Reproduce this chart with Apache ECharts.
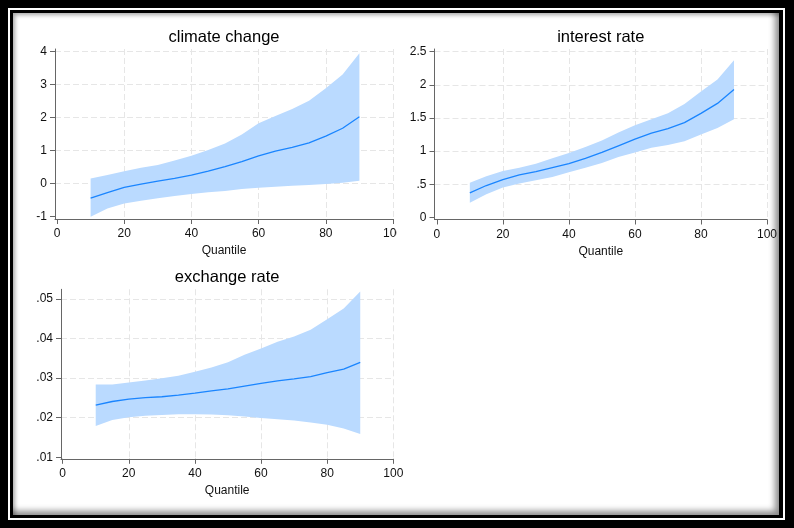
<!DOCTYPE html>
<html>
<head>
<meta charset="utf-8">
<script src="https://cdn.jsdelivr.net/npm/echarts@6/dist/echarts.min.js"></script>
<style>
html,body{margin:0;padding:0;background:#000;}
#wrap{position:relative;width:794px;height:528px;background:#000;overflow:hidden;}
.f1{position:absolute;left:8px;top:8px;width:777px;height:512px;background:#fff;}
.f2{position:absolute;left:10px;top:10px;width:773px;height:508px;background:#000;}
.f3{position:absolute;left:13px;top:13px;width:766px;height:502px;background:#fff;
    box-shadow:inset -6px -6px 6px -2px rgba(0,0,0,.45), inset 4px 4px 4px -2px rgba(0,0,0,.35);}
#main{position:absolute;left:0;top:0;width:794px;height:528px;}
</style>
</head>
<body>
<div id="wrap">
  <div class="f1"></div><div class="f2"></div><div class="f3"></div>
  <div id="main"></div>
</div>
<script>
var quantiles = [10,15,20,25,30,35,40,45,50,55,60,65,70,75,80,85,90];

var climateCoef = [-0.44,-0.27,-0.11,-0.01,0.08,0.16,0.26,0.38,0.52,0.67,0.84,0.99,1.10,1.24,1.44,1.68,2.03];
var climateLow  = [-1.00,-0.75,-0.60,-0.52,-0.44,-0.37,-0.31,-0.26,-0.22,-0.16,-0.12,-0.09,-0.06,-0.04,-0.01,0.03,0.09];
var climateHigh = [0.16,0.26,0.38,0.48,0.57,0.70,0.85,1.02,1.22,1.49,1.83,2.05,2.26,2.51,2.89,3.31,3.95];

var interestCoef = [0.37,0.48,0.57,0.64,0.69,0.75,0.81,0.89,0.98,1.08,1.18,1.27,1.34,1.43,1.57,1.72,1.93];
var interestLow  = [0.22,0.35,0.45,0.51,0.56,0.61,0.68,0.75,0.82,0.91,0.98,1.05,1.09,1.15,1.25,1.35,1.48];
var interestHigh = [0.52,0.62,0.70,0.75,0.81,0.89,0.97,1.06,1.16,1.28,1.39,1.48,1.57,1.71,1.90,2.08,2.37];

var exchangeCoef = [0.0232,0.0241,0.0247,0.0251,0.0253,0.0257,0.0262,0.0268,0.0273,0.0280,0.0287,0.0293,0.0298,0.0304,0.0314,0.0323,0.0340];
var exchangeLow  = [0.0179,0.0194,0.0201,0.0205,0.0207,0.0209,0.0209,0.0208,0.0206,0.0203,0.0199,0.0196,0.0193,0.0188,0.0182,0.0173,0.0159];
var exchangeHigh = [0.0284,0.0284,0.0289,0.0294,0.0300,0.0306,0.0316,0.0327,0.0340,0.0359,0.0375,0.0392,0.0405,0.0422,0.0449,0.0476,0.0519];

var xTicks = [0,20,40,60,80,100];
var climateTicks = [-1,0,1,2,3,4];
var interestTicks = [0,0.5,1,1.5,2,2.5];
var exchangeTicks = [0.01,0.02,0.03,0.04,0.05];

var titles = ['climate change','interest rate','exchange rate'];

var FONT = '"Liberation Sans", Arial, sans-serif';
var AXIS = '#666';
var GRIDC = '#e6e6e6';
var LINE = '#1a85ff';
var BAND = '#badaff';

// stata style labels: .5 instead of 0.5
function stataNum(v){
	var s = String(Math.round(v*10000)/10000);
	return s.replace(/^0\./,'.').replace(/^-0\./,'-.');
}

var panels = [
	{coef: climateCoef, low: climateLow, high: climateHigh, ticks: climateTicks,
	 left: 55, top: 49, width: 338, height: 170, xmin: -0.6, ymin: -1.07, ymax: 4.082},
	{coef: interestCoef, low: interestLow, high: interestHigh, ticks: interestTicks,
	 left: 434.5, top: 49, width: 332.5, height: 170.5, xmin: -0.7, ymin: -0.033, ymax: 2.541},
	{coef: exchangeCoef, low: exchangeLow, high: exchangeHigh, ticks: exchangeTicks,
	 left: 61, top: 289.3, width: 332.3, height: 169.5, xmin: -0.5, ymin: 0.00962, ymax: 0.05245}
];

var grids=[], xAxes=[], yAxes=[], series=[], graphics=[];

function gridColors(n){
	var c=['rgba(0,0,0,0)'];
	for(var i=1;i<n;i++) c.push(GRIDC);
	return c;
}

// confidence band as one polygon: upper edge forward, lower edge back
function bandRenderer(p){
	return function(params, api){
		if(params.dataIndex !== 0) return null;
		var pts = [];
		for(var k=0;k<quantiles.length;k++) pts.push(api.coord([quantiles[k], p.high[k]]));
		for(var k=quantiles.length-1;k>=0;k--) pts.push(api.coord([quantiles[k], p.low[k]]));
		return {type: 'polygon', shape: {points: pts}, style: {fill: BAND}};
	};
}

panels.forEach(function(p, i){
	grids.push({left: p.left, top: p.top, width: p.width, height: p.height});
	xAxes.push({
		type: 'value', gridIndex: i, min: p.xmin, max: 100,
		name: 'Quantile', nameLocation: 'middle', nameGap: 26,
		nameTextStyle: {fontFamily: FONT, fontSize: 12, color: '#111'},
		axisLine: {onZero: false, lineStyle: {color: AXIS, width: 1}},
		axisTick: {length: 5, lineStyle: {color: AXIS}, customValues: xTicks},
		axisLabel: {margin: 9, fontFamily: FONT, fontSize: 12, color: '#111', customValues: xTicks},
		splitLine: {show: true, lineStyle: {color: gridColors(xTicks.length), type: [6,3], width: 1}}
	});
	yAxes.push({
		type: 'value', gridIndex: i, min: p.ymin, max: p.ymax,
		axisLine: {show: true, onZero: false, lineStyle: {color: AXIS, width: 1}},
		axisTick: {show: true, length: 5, lineStyle: {color: AXIS}, customValues: p.ticks},
		axisLabel: {margin: 8, fontFamily: FONT, fontSize: 12, color: '#111', customValues: p.ticks,
			formatter: function(v){ return stataNum(v); }},
		splitLine: {show: true, lineStyle: {color: gridColors(p.ticks.length), type: [6,3], width: 1}}
	});
	var bandRows = quantiles.map(function(q,k){ return [q, p.low[k], p.high[k]]; });
	var coefData = quantiles.map(function(q,k){ return [q, p.coef[k]]; });
	series.push({
		type: 'custom', xAxisIndex: i, yAxisIndex: i, data: bandRows,
		encode: {x: 0, y: [1,2]}, silent: true, renderItem: bandRenderer(p)
	});
	series.push({
		type: 'line', xAxisIndex: i, yAxisIndex: i, data: coefData,
		symbol: 'none', silent: true, lineStyle: {color: LINE, width: 1.3}
	});
	graphics.push({
		type: 'text', z: 100,
		x: p.left + p.width/2, y: p.top - 12,
		style: {text: titles[i], fontFamily: FONT, fontSize: 16.5, fill: '#000',
			align: 'center', verticalAlign: 'middle'}
	});
});

// graph combine clips the last label of the first panel
graphics.push({type: 'rect', z: 100, shape: {x: 397, y: 225, width: 30, height: 20}, style: {fill: '#fff'}});

var myChart = echarts.init(document.getElementById('main'));
myChart.setOption({
	animation: false,
	grid: grids,
	xAxis: xAxes,
	yAxis: yAxes,
	series: series,
	graphic: graphics
});
</script>
</body>
</html>
